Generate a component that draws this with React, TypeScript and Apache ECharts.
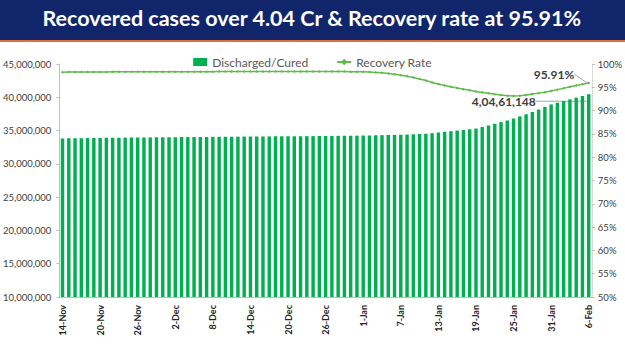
import React, { useEffect, useRef } from "react";
import * as echarts from "echarts";

const TITLE = "Recovered cases over 4.04 Cr & Recovery rate at 95.91%";
const START_DATE = "2021-11-14";
const DAY_COUNT = 85;
const MONTHS = ["Jan", "Feb", "Mar", "Apr", "May", "Jun", "Jul", "Aug", "Sep", "Oct", "Nov", "Dec"];

// Discharged / Cured (cumulative) 14-Nov .. 6-Feb
const discharged = [
  // Nov 14-30
  33826483, 33838000, 33849000, 33860000, 33872000, 33883000, 33894000, 33904000, 33914000,
  33924000, 33934000, 33944000, 33954000, 33964000, 33973000, 33982000, 33991000,
  // Dec 1-31
  34000000, 34009000, 34018000, 34027000, 34035000, 34043000, 34051000, 34059000, 34067000,
  34075000, 34083000, 34090000, 34097000, 34104000, 34111000, 34118000, 34125000, 34132000,
  34139000, 34146000, 34153000, 34160000, 34167000, 34174000, 34181000, 34188000, 34195000,
  34203000, 34211000, 34220000, 34230000,
  // Jan 1-31
  34255000, 34272000, 34294000, 34314000, 34334000, 34352000, 34372000, 34400000, 34432000,
  34470000, 34530000, 34606000, 34716000, 34810000, 34910000, 35000000, 35090000, 35190000,
  35300000, 35530000, 35770000, 36020000, 36270000, 36530000, 36817000, 37130000, 37450000,
  37790000, 38150000, 38540000, 38922000,
  // Feb 1-6
  39180000, 39430000, 39690000, 39950000, 40210000, 40461148,
];

// Recovery rate (%)
const recoveryRate = [
  // Nov 14-30
  98.25, 98.26, 98.27, 98.28, 98.29, 98.29, 98.3, 98.31, 98.32, 98.32, 98.33, 98.33, 98.34,
  98.34, 98.35, 98.35, 98.35,
  // Dec 1-31
  98.35, 98.35, 98.35, 98.35, 98.36, 98.36, 98.36, 98.36, 98.37, 98.37, 98.37, 98.37, 98.38,
  98.38, 98.38, 98.38, 98.38, 98.38, 98.38, 98.38, 98.39, 98.39, 98.39, 98.4, 98.4, 98.4,
  98.4, 98.4, 98.38, 98.36, 98.34,
  // Jan 1-31
  98.32, 98.27, 98.2, 98.1, 97.95, 97.8, 97.57, 97.35, 97.1, 96.8, 96.45, 96.05, 95.7, 95.4,
  95.1, 94.85, 94.6, 94.35, 94.1, 93.9, 93.7, 93.5, 93.35, 93.2, 93.15, 93.2, 93.35, 93.55,
  93.75, 93.95, 94.2,
  // Feb 1-6
  94.5, 94.8, 95.1, 95.4, 95.65, 95.91,
];

const leftTicks = { min: 10000000, max: 45000000, interval: 5000000 };
const rightTicks = { min: 50, max: 100, interval: 5 };

function buildCategories(): string[] {
  const out: string[] = [];
  const start = new Date(START_DATE + "T00:00:00Z");
  for (let i = 0; i < DAY_COUNT; i++) {
    const d = new Date(start.getTime() + i * 86400000);
    out.push(`${d.getUTCDate()}-${MONTHS[d.getUTCMonth()]}`);
  }
  return out;
}
const categories = buildCategories();

function westernFormat(n: number): string {
  return String(Math.round(n)).replace(/\B(?=(\d{3})+(?!\d))/g, ",");
}
function indianFormat(n: number): string {
  const s = String(Math.round(n));
  if (s.length <= 3) return s;
  const last3 = s.slice(-3);
  const rest = s.slice(0, -3).replace(/\B(?=(\d{2})+(?!\d))/g, ",");
  return rest + "," + last3;
}

const FONT = "Lato, 'Open Sans', sans-serif";

export default function App() {
  const ref = useRef<HTMLDivElement>(null);
  useEffect(() => {
    if (!ref.current) return;
    const chart = echarts.init(ref.current, undefined, { renderer: "svg" });
    const lastIdx = discharged.length - 1;
    const barData = discharged.map((v, i) =>
      i === lastIdx
        ? {
            value: v,
            label: {
              show: true,
              position: "top",
              formatter: (p: any) => indianFormat(p.value),
              fontFamily: FONT,
              fontWeight: "bold",
              fontSize: 12,
              color: "#404040",
            },
            labelLine: { show: true, lineStyle: { color: "#a6a6a6", width: 1 } },
          }
        : v
    );
    const lineData = recoveryRate.map((v, i) =>
      i === lastIdx
        ? {
            value: v,
            label: {
              show: true,
              position: "left",
              formatter: (p: any) => p.value.toFixed(2) + "%",
              fontFamily: FONT,
              fontWeight: "bold",
              fontSize: 12,
              color: "#404040",
            },
            labelLine: { show: true, lineStyle: { color: "#a6a6a6", width: 1 } },
          }
        : v
    );
    chart.setOption({
      animation: false,
      backgroundColor: "#ffffff",
      textStyle: { fontFamily: FONT },
      graphic: [
        { type: "rect", left: 0, top: 0, shape: { width: 625, height: 40 }, style: { fill: "#10256a" }, z: 10 },
        { type: "rect", left: 0, top: 40, shape: { width: 625, height: 2 }, style: { fill: "#e2703a" }, z: 10 },
        {
          type: "text",
          left: "center",
          top: 7,
          z: 11,
          style: {
            text: TITLE,
            fill: "#ffffff",
            font: `bold 21.5px ${FONT}`,
          },
        },
      ],
      legend: {
        top: 51,
        left: "center",
        itemGap: 28,
        itemWidth: 14,
        itemHeight: 8,
        textStyle: { color: "#595959", fontSize: 12, fontFamily: FONT },
        data: [
          { name: "Discharged/Cured", icon: "rect" },
          { name: "Recovery Rate" },
        ],
      },
      grid: { left: 54, right: 32, top: 64, bottom: 54, containLabel: false },
      xAxis: {
        type: "category",
        data: categories,
        boundaryGap: true,
        axisLine: { lineStyle: { color: "#bfbfbf" } },
        axisTick: { show: false },
        axisLabel: {
          interval: 5,
          rotate: 90,
          fontSize: 9,
          fontWeight: "bold",
          color: "#262626",
          margin: 8,
          fontFamily: FONT,
        },
      },
      yAxis: [
        {
          type: "value",
          min: leftTicks.min,
          max: leftTicks.max,
          interval: leftTicks.interval,
          splitLine: { show: false },
          axisLine: { show: true, lineStyle: { color: "#bfbfbf" } },
          axisTick: { show: true, length: 3, lineStyle: { color: "#bfbfbf" } },
          axisLabel: {
            formatter: (v: number) => westernFormat(v),
            fontSize: 9.5,
            color: "#404040",
            margin: 8,
            fontFamily: FONT,
          },
        },
        {
          type: "value",
          min: rightTicks.min,
          max: rightTicks.max,
          interval: rightTicks.interval,
          position: "right",
          splitLine: { show: false },
          axisLine: { show: true, lineStyle: { color: "#d9d9d9" } },
          axisTick: { show: true, length: 3, lineStyle: { color: "#bfbfbf" } },
          axisLabel: {
            formatter: "{value}%",
            fontSize: 9.5,
            color: "#404040",
            margin: 6,
            fontFamily: FONT,
          },
        },
      ],
      series: [
        {
          name: "Discharged/Cured",
          type: "bar",
          yAxisIndex: 0,
          data: barData,
          barWidth: "55%",
          itemStyle: { color: "#00b050" },
          labelLayout: { dx: -85, dy: 18 },
          z: 2,
        },
        {
          name: "Recovery Rate",
          type: "line",
          yAxisIndex: 1,
          data: lineData,
          itemStyle: { color: "#62b94e" },
          lineStyle: { color: "#62b94e", width: 1.5 },
          symbol: "diamond",
          symbolSize: 3,
          labelLayout: { dx: -8, dy: -9 },
          z: 3,
        },
      ],
    });
    return () => chart.dispose();
  }, []);
  return (
    <div
      ref={ref}
      style={{ position: "fixed", left: 0, top: 0, width: 625, height: 351, background: "#fff" }}
    />
  );
}
